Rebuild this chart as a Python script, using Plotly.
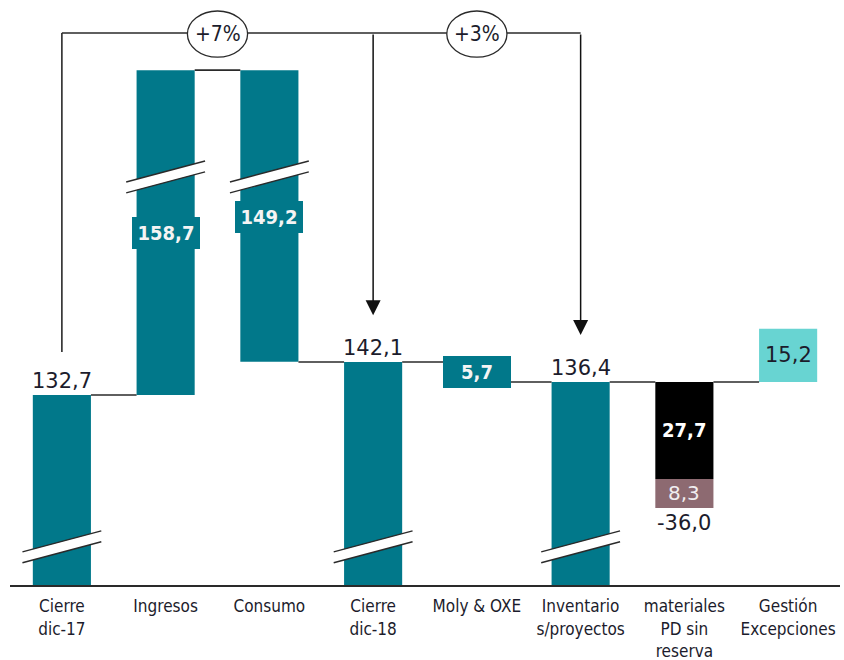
import plotly.graph_objects as go

# ---------------- data ----------------
categories = ["Cierre<br>dic-17", "Ingresos", "Consumo", "Cierre<br>dic-18",
              "Moly & OXE", "Inventario<br>s/proyectos", "materiales<br>PD sin<br>reserva",
              "Gestión<br>Excepciones"]
cierre_17 = 132.7
ingresos = 158.7
consumo = -149.2
cierre_18 = 142.1
moly = -5.7
inventario = 136.4
materiales_a = -27.7
materiales_b = -8.3
materiales_total = -36.0
gestion = 15.2
pct_labels = ["+7%", "+3%"]

# ---------------- axis-break transform ----------------
LOW_CUT = 78.4      # value hidden by the lower axis break
TOP_CUT = 65.9      # extra value hidden by the upper break
HIGH_THRESHOLD = 200


def disp(v):
    d = v - LOW_CUT
    if v > HIGH_THRESHOLD:
        d -= TOP_CUT
    return d


def fmt(v):
    return f"{v:.1f}".replace(".", ",")


TEAL = "#01788a"
BLACK = "#000000"
MAUVE = "#8d6a71"
CYAN = "#68d4d2"
LINE = "#2a2a2a"
TXT = "#1c1c2c"
FONT = "DejaVu Sans Condensed, DejaVu Sans, sans-serif"
FONT_W = "DejaVu Sans, sans-serif"

# running levels
lvl0 = cierre_17
lvl1 = lvl0 + ingresos
lvl2 = lvl1 + consumo
lvl4 = cierre_18 + moly

bottoms = [0, disp(lvl0), disp(lvl2), 0, disp(lvl4), 0, disp(inventario + materiales_a), disp(inventario)]
tops = [disp(lvl0), disp(lvl1), disp(lvl1), disp(cierre_18), disp(cierre_18), disp(inventario),
        disp(inventario), disp(inventario + gestion)]
colors = [TEAL, TEAL, TEAL, TEAL, TEAL, TEAL, BLACK, CYAN]
xs = list(range(len(categories)))
BW = 0.56

fig = go.Figure()
fig.add_trace(go.Bar(x=xs, y=[t - b for t, b in zip(tops, bottoms)], base=bottoms,
                     marker=dict(color=colors, line=dict(width=0)), width=BW,
                     hoverinfo="skip"))
fig.add_trace(go.Bar(x=[6], y=[disp(inventario + materiales_a) - disp(inventario + materiales_a + materiales_b)],
                     base=[disp(inventario + materiales_a + materiales_b)],
                     marker=dict(color=MAUVE, line=dict(width=0)), width=BW, hoverinfo="skip"))

shapes = []
# connectors
conn_levels = [lvl0, lvl1, lvl2, cierre_18, inventario, inventario, inventario]
for i, lv in enumerate(conn_levels):
    y = disp(lv)
    if i == 2:
        y = disp(cierre_18)
    shapes.append(dict(type="line", x0=i + BW / 2, x1=i + 1 - BW / 2, y0=y, y1=y,
                       line=dict(color=LINE, width=1.6), layer="above"))

# axis-break marks
def brk(xc, yc):
    hw, hr, hg = 0.38, 3.0, 1.55
    path = (f"M {xc-hw} {yc-hr+hg} L {xc+hw} {yc+hr+hg} L {xc+hw} {yc+hr-hg} "
            f"L {xc-hw} {yc-hr-hg} Z")
    shapes.append(dict(type="path", path=path, fillcolor="white", line=dict(width=0), layer="above"))
    for s in (1, -1):
        shapes.append(dict(type="line", x0=xc - hw, x1=xc + hw, y0=yc - hr + s * hg,
                           y1=yc + hr + s * hg, line=dict(color=LINE, width=1.4), layer="above"))

for i in (0, 3, 5):
    brk(i, 10.9)
for i in (1, 2):
    brk(i, 116.6)

# bracket
BR_Y = 157.7
shapes.append(dict(type="line", x0=0, x1=5, y0=BR_Y, y1=BR_Y, line=dict(color=LINE, width=1.6)))
shapes.append(dict(type="line", x0=0, x1=0, y0=BR_Y, y1=66.6, line=dict(color=LINE, width=1.6)))
ell_w = 0.29
for cx in (1.5, 4.0):
    shapes.append(dict(type="circle", x0=cx - ell_w, x1=cx + ell_w, y0=150.8, y1=164.0,
                       fillcolor="white", line=dict(color=LINE, width=1.3)))

annotations = []
for cx, lab in zip((1.5, 4.0), pct_labels):
    annotations.append(dict(x=cx, y=157.4, text=lab, showarrow=False,
                            font=dict(family=FONT, size=21, color=TXT)))
# arrows
for ax_x, tip in ((3, 77.1), (5, 71.4)):
    annotations.append(dict(x=ax_x, y=tip, ax=ax_x, ay=BR_Y, axref="x", ayref="y",
                            xref="x", yref="y", text="", showarrow=True, arrowhead=2,
                            arrowsize=2.0, arrowwidth=1.5, arrowcolor="#111"))

# value labels above totals
for i, v in ((0, cierre_17), (3, cierre_18), (5, inventario)):
    annotations.append(dict(x=i, y=disp(v), text=fmt(v), showarrow=False, yanchor="bottom",
                            yshift=0, font=dict(family=FONT_W, size=21, color=TXT)))

# boxed labels
def box(x, y, text, bg, fc):
    annotations.append(dict(x=x, y=y, text=f"<b>{text}</b>", showarrow=False, bgcolor=bg,
                            bordercolor=bg, borderpad=3, borderwidth=1, width=60,
                            font=dict(family=FONT, size=20, color=fc)))

box(1, 100.6, fmt(ingresos), TEAL, "#f4f4f4")
box(2, 105.1, fmt(-consumo), TEAL, "#f4f4f4")
box(4, (disp(cierre_18) + disp(lvl4)) / 2, fmt(-moly), TEAL, "#f4f4f4")
annotations.append(dict(x=6, y=(disp(inventario) + disp(inventario + materiales_a)) / 2,
                        text=f"<b>{fmt(-materiales_a)}</b>", showarrow=False,
                        font=dict(family=FONT, size=20, color="white")))
annotations.append(dict(x=6, y=(disp(inventario + materiales_a) + disp(inventario + materiales_a + materiales_b)) / 2,
                        text=fmt(-materiales_b), showarrow=False,
                        font=dict(family=FONT_W, size=20, color="#f0eef0")))
annotations.append(dict(x=6, y=disp(inventario + materiales_total), text=fmt(materiales_total),
                        showarrow=False, yanchor="top", yshift=-1,
                        font=dict(family=FONT_W, size=21, color=TXT)))
annotations.append(dict(x=7, y=(disp(inventario) + disp(inventario + gestion)) / 2,
                        text=fmt(gestion), showarrow=False,
                        font=dict(family=FONT_W, size=21, color=TXT)))

fig.update_layout(
    width=844, height=660,
    margin=dict(l=10, r=4, t=10, b=75),
    paper_bgcolor="white", plot_bgcolor="white",
    barmode="overlay", showlegend=False,
    shapes=shapes, annotations=annotations,
    xaxis=dict(range=[-0.5, 7.5], tickmode="array", tickvals=xs, ticktext=categories,
               showgrid=False, zeroline=False, showline=True, linecolor=LINE, linewidth=2,
               ticks="", ticklabelstandoff=5, automargin=False,
               tickfont=dict(family=FONT, size=17, color=TXT), fixedrange=True),
    yaxis=dict(range=[0, 575 / 3.5], visible=False, fixedrange=True),
)

fig.write_html("out.html")
